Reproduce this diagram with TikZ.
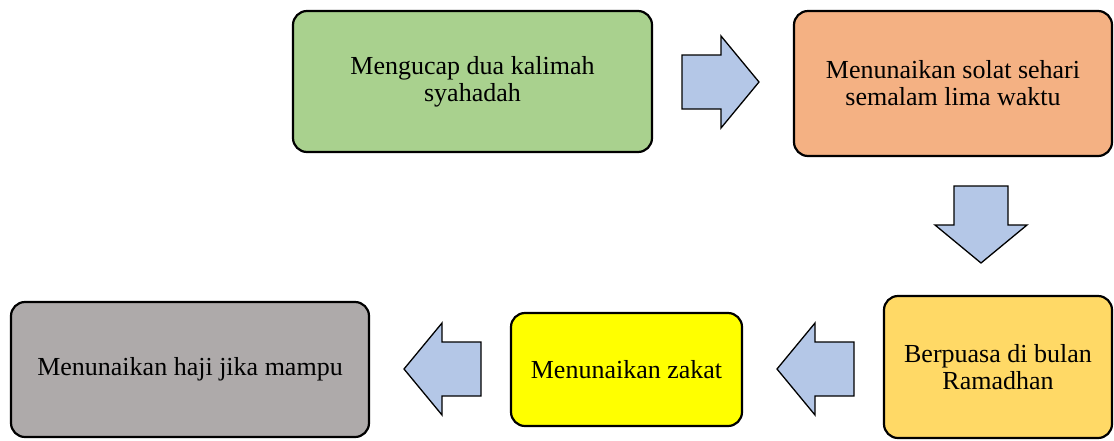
\documentclass[tikz,border=0pt]{standalone}
\usepackage{fontspec}
\setmainfont{Liberation Serif}
\usepackage{tikz}
\usetikzlibrary{shapes,arrows}
\definecolor{boxgreen}{HTML}{A9D18E}
\definecolor{boxorange}{HTML}{F4B183}
\definecolor{boxgold}{HTML}{FFD966}
\definecolor{boxyellow}{HTML}{FFFF00}
\definecolor{boxgray}{HTML}{AEAAAA}
\definecolor{arrowblue}{HTML}{B4C7E7}
\tikzstyle{step box}=[draw=black,line width=2.2pt,rounded corners=14pt,align=center,inner sep=0pt,font=\fontsize{26}{27}\selectfont]
\tikzstyle{myarrow}=[draw=black,fill=arrowblue,line width=1.3pt,line join=miter]

\begin{document}
\begin{tikzpicture}[x=1pt,y=-1pt]
		\useasboundingbox (0,0) rectangle (1114,440);

		\node[step box,fill=boxgreen,minimum width=359pt,minimum height=141pt] (syahadah) at (472.5,81.5) {Mengucap dua kalimah\\syahadah};
		\node[step box,fill=boxorange,minimum width=318pt,minimum height=145pt] (solat) at (953,83.5) {Menunaikan solat sehari\\semalam lima waktu};
		\node[step box,fill=boxgold,minimum width=228pt,minimum height=142pt] (puasa) at (998,367) {Berpuasa di bulan\\Ramadhan};
		\node[step box,fill=boxyellow,minimum width=231pt,minimum height=113pt] (zakat) at (626.5,369.5) {Menunaikan zakat};
		\node[step box,fill=boxgray,minimum width=358pt,minimum height=135pt] (haji) at (190,369.5) {Menunaikan haji jika mampu};

%		block arrows: centre x / centre y / rotation
		\foreach \x / \y / \r in {720.5/82/0,981/224.5/-90,815.5/369/180,442.5/369/180} {
			\draw[myarrow,shift={(\x,\y)},rotate=\r] (-38.5,-27) -- (0.5,-27) -- (0.5,-46) -- (38.5,0) -- (0.5,46) -- (0.5,27) -- (-38.5,27) -- cycle;
		}
	\end{tikzpicture}
\end{document}
